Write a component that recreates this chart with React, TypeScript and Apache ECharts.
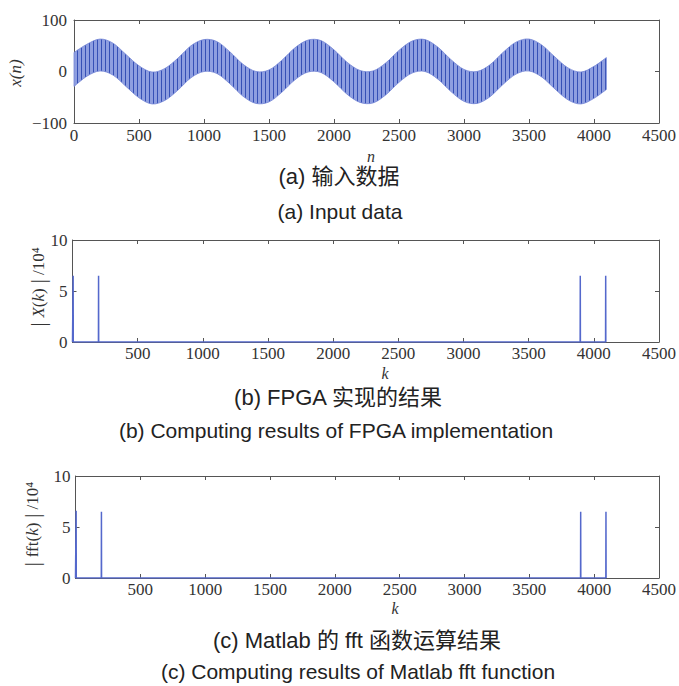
import React, { useEffect, useRef } from 'react';
import * as echarts from 'echarts';

// ---- Panel (a): input signal, envelope ----
const nPos = [0, 100, 200, 300, 400, 500, 600, 700, 800, 900, 1000, 1100, 1200, 1300, 1400, 1500, 1600, 1700, 1800, 1900, 2000, 2100, 2200, 2300, 2400, 2500, 2600, 2700, 2800, 2900, 3000, 3100, 3200, 3300, 3400, 3500, 3600, 3700, 3800, 3900, 4000, 4095];
const upperEnv = [37, 53, 63, 55, 33, 11, -1, 6, 26, 50, 62, 58, 38, 14, 0, 3, 22, 46, 61, 60, 42, 18, 2, 1, 17, 41, 59, 62, 47, 23, 4, 0, 13, 37, 57, 63, 51, 28, 7, -1, 10, 27];
const lowerEnv = [-29, -9, 1, -7, -29, -51, -63, -56, -36, -12, 0, -4, -24, -48, -62, -59, -40, -16, -1, -2, -20, -44, -60, -61, -45, -21, -3, 0, -15, -39, -58, -62, -49, -25, -5, 1, -11, -34, -55, -63, -52, -35];

// ---- Panel (b): FPGA FFT magnitude (/10^4) ----
const fpgaK = [0, 4, 5, 6, 199, 200, 201, 3895, 3896, 3897, 4090, 4091, 4092, 4095];
const fpgaMag = [0, 0, 6.5, 0, 0, 6.5, 0, 0, 6.5, 0, 0, 6.5, 0, 0];

// ---- Panel (c): Matlab fft magnitude (/10^4) ----
const matlabK = [0, 4, 5, 6, 199, 200, 201, 3895, 3896, 3897, 4090, 4091, 4092, 4095];
const matlabMag = [0, 0, 6.6, 0, 0, 6.5, 0, 0, 6.5, 0, 0, 6.5, 0, 0];

const xTicks = { min: 0, max: 4500, interval: 500 };
const yTicksA = { min: -100, max: 100, interval: 100 };
const yTicksBC = { min: 0, max: 10, interval: 5 };

const captions = [
  { text: '(a) 输入数据', x: 339, y: 176, size: 22 },
  { text: '(a) Input data', x: 340, y: 211, size: 21 },
  { text: '(b) FPGA 实现的结果', x: 338, y: 397, size: 22 },
  { text: '(b) Computing results of FPGA implementation', x: 336, y: 430, size: 21 },
  { text: '(c) Matlab 的 fft 函数运算结果', x: 357, y: 640, size: 22 },
  { text: '(c) Computing results of Matlab fft function', x: 358, y: 671, size: 21 },
];

const serif = "'Liberation Serif', 'Times New Roman', serif";
const sans = "'Liberation Sans', Arial, 'Noto Sans CJK SC', sans-serif";
const frame = '#555';
const labelColor = '#333';
const lineBlue = '#5468cc';

function fmtNum(v: number): string {
  return v < 0 ? '\u2212' + Math.abs(v) : String(v);
}

function xAxes(g: number, margin: number, hideZero: boolean) {
  return [
    {
      gridIndex: g, type: 'value', position: 'bottom', ...xTicks,
      axisLine: { show: true, onZero: false, lineStyle: { color: frame, width: 1 } },
      axisTick: { show: true, inside: true, length: 4, lineStyle: { color: frame } },
      axisLabel: {
        show: true, margin, color: labelColor, fontFamily: serif, fontSize: 17,
        formatter: (v: number) => (hideZero && v === 0 ? '' : fmtNum(v)),
      },
      splitLine: { show: false },
    },
    {
      gridIndex: g, type: 'value', position: 'top', ...xTicks,
      axisLine: { show: true, onZero: false, lineStyle: { color: frame, width: 1 } },
      axisTick: { show: true, inside: true, length: 4, lineStyle: { color: frame } },
      axisLabel: { show: false },
      splitLine: { show: false },
    },
  ];
}

function yAxes(g: number, ticks: any, margin: number) {
  return [
    {
      gridIndex: g, type: 'value', position: 'left', ...ticks,
      axisLine: { show: true, onZero: false, lineStyle: { color: frame, width: 1 } },
      axisTick: { show: true, inside: true, length: 4, lineStyle: { color: frame } },
      axisLabel: { show: true, margin, color: labelColor, fontFamily: serif, fontSize: 17, formatter: fmtNum },
      splitLine: { show: false },
    },
    {
      gridIndex: g, type: 'value', position: 'right', ...ticks,
      axisLine: { show: true, onZero: false, lineStyle: { color: frame, width: 1 } },
      axisTick: { show: true, inside: true, length: 4, lineStyle: { color: frame } },
      axisLabel: { show: false },
      splitLine: { show: false },
    },
  ];
}

// Catmull-Rom rendering of a pixel polyline as cubic bezier commands
function splinePath(pts: number[][], start: string): string {
  let d = start + pts[0][0].toFixed(2) + ' ' + pts[0][1].toFixed(2);
  for (let i = 0; i < pts.length - 1; i++) {
    const p0 = pts[Math.max(0, i - 1)];
    const p1 = pts[i];
    const p2 = pts[i + 1];
    const p3 = pts[Math.min(pts.length - 1, i + 2)];
    const c1x = p1[0] + (p2[0] - p0[0]) / 6;
    const c1y = p1[1] + (p2[1] - p0[1]) / 6;
    const c2x = p2[0] - (p3[0] - p1[0]) / 6;
    const c2y = p2[1] - (p3[1] - p1[1]) / 6;
    d += ` C${c1x.toFixed(2)} ${c1y.toFixed(2)} ${c2x.toFixed(2)} ${c2y.toFixed(2)} ${p2[0].toFixed(2)} ${p2[1].toFixed(2)}`;
  }
  return d;
}

export default function App() {
  const ref = useRef<HTMLDivElement>(null);
  useEffect(() => {
    const chart = echarts.init(ref.current!, null, { renderer: 'svg' });

    const cv = document.createElement('canvas');
    cv.width = 4;
    cv.height = 4;
    const ctx = cv.getContext('2d')!;
    ctx.fillStyle = '#8e9ee0';
    ctx.fillRect(0, 0, 4, 4);
    ctx.fillStyle = '#3650b6';
    ctx.fillRect(1, 0, 1, 4);
    const stripe: any = { image: cv, repeat: 'repeat', imageWidth: 4, imageHeight: 4 };

    const yName = (txt: string) => ({
      text: txt,
      rich: {
        b: { fontFamily: serif, fontSize: 20, fill: labelColor },
        i: { fontFamily: serif, fontSize: 17, fontStyle: 'italic', fill: labelColor },
        n: { fontFamily: serif, fontSize: 17, fill: labelColor },
      },
      fill: labelColor,
      align: 'center',
      verticalAlign: 'middle',
    });

    const option: any = {
      animation: false,
      backgroundColor: '#fff',
      grid: [
        { left: 74, top: 20, width: 592, height: 103 },
        { left: 72.5, top: 240, width: 590.5, height: 102 },
        { left: 75.5, top: 476, width: 591, height: 102 },
      ],
      xAxis: [...xAxes(0, 4, false), ...xAxes(1, 3, true), ...xAxes(2, 3, true)],
      yAxis: [...yAxes(0, yTicksA, 7), ...yAxes(1, yTicksBC, 5), ...yAxes(2, yTicksBC, 5)],
      series: [
        {
          type: 'custom', xAxisIndex: 0, yAxisIndex: 0, coordinateSystem: 'cartesian2d',
          data: nPos.map((n, i) => [n, upperEnv[i], lowerEnv[i]]),
          encode: { x: 0, y: [1, 2] },
          renderItem: (params: any, api: any) => {
            if (params.dataIndex !== 0) return null;
            const up = nPos.map((n, i) => api.coord([n, upperEnv[i]]));
            const lo = nPos.map((n, i) => api.coord([n, lowerEnv[i]])).reverse();
            const d = splinePath(up, 'M') + ' ' + splinePath(lo, 'L') + ' Z';
            return {
              type: 'group',
              children: [
                {
                  type: 'path',
                  shape: { pathData: d },
                  style: { fill: stripe, stroke: '#7485d6', lineWidth: 0.8 },
                },
              ],
            };
          },
        },
        {
          type: 'line', xAxisIndex: 2, yAxisIndex: 2,
          data: fpgaK.map((k, i) => [k, fpgaMag[i]]),
          symbol: 'none', lineStyle: { color: lineBlue, width: 1.5 },
        },
        {
          type: 'line', xAxisIndex: 4, yAxisIndex: 4,
          data: matlabK.map((k, i) => [k, matlabMag[i]]),
          symbol: 'none', lineStyle: { color: lineBlue, width: 1.5 },
        },
      ],
      graphic: [
        {
          type: 'text', x: 15, y: 73, rotation: Math.PI / 2,
          style: { text: 'x(n)', fontFamily: serif, fontSize: 17, fontStyle: 'italic', fill: labelColor, align: 'center', verticalAlign: 'middle' },
        },
        {
          type: 'text', x: 371, y: 156,
          style: { text: 'n', fontFamily: serif, fontSize: 16, fontStyle: 'italic', fill: labelColor, align: 'center', verticalAlign: 'middle' },
        },
        {
          type: 'text', x: 385, y: 373,
          style: { text: 'k', fontFamily: serif, fontSize: 16, fontStyle: 'italic', fill: labelColor, align: 'center', verticalAlign: 'middle' },
        },
        {
          type: 'text', x: 395, y: 608,
          style: { text: 'k', fontFamily: serif, fontSize: 16, fontStyle: 'italic', fill: labelColor, align: 'center', verticalAlign: 'middle' },
        },
        {
          type: 'text', x: 38, y: 287, rotation: Math.PI / 2,
          style: yName('{b|| }{i|X}{n|(}{i|k}{n|)}{b| |}{n| /10⁴}'),
        },
        {
          type: 'text', x: 32, y: 524, rotation: Math.PI / 2,
          style: yName('{b|| }{n|fft(}{i|k}{n|)}{b| |}{n| /10⁴}'),
        },
        ...captions.map((c) => ({
          type: 'text', x: c.x, y: c.y,
          style: { text: c.text, fontFamily: sans, fontSize: c.size, fill: '#222', align: 'center', verticalAlign: 'middle' },
        })),
      ],
    };
    chart.setOption(option);
    return () => chart.dispose();
  }, []);
  return (
    <div
      ref={ref}
      style={{ position: 'absolute', left: 0, top: 0, width: 679, height: 686, background: '#fff' }}
    />
  );
}
